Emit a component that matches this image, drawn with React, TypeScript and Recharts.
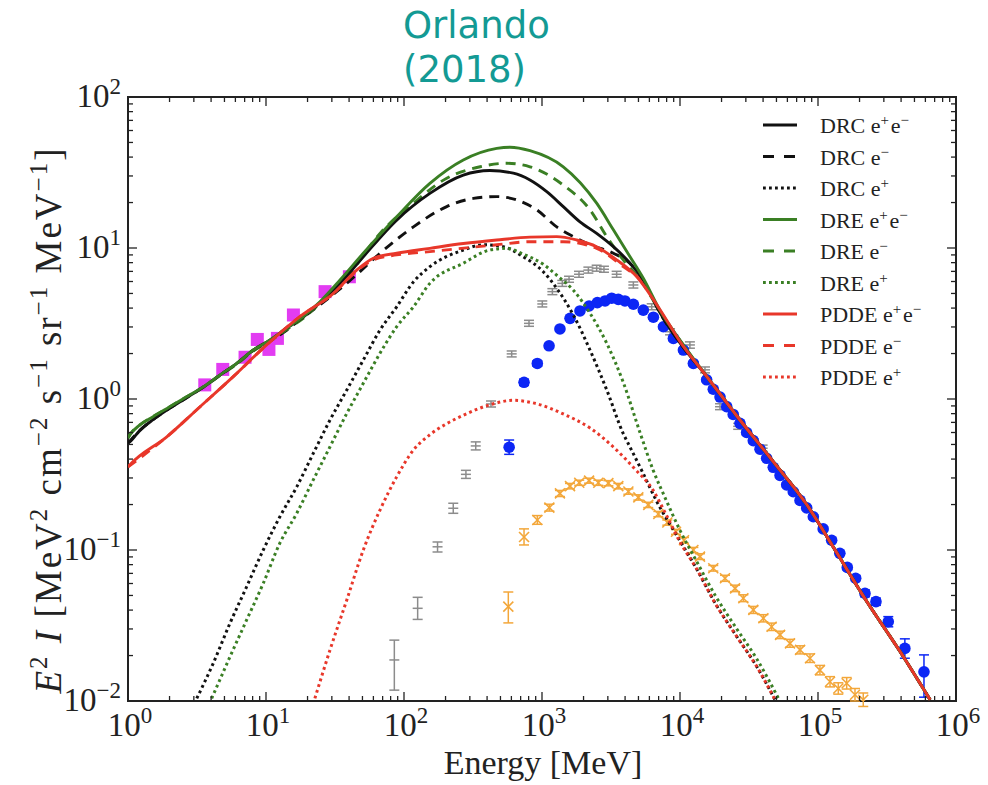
import React from 'react';
import { ComposedChart, Line, Scatter, XAxis, YAxis, ErrorBar, ReferenceArea } from 'recharts';

type Pair = [number, number];
type Pt = [number, number, number, number]; // energy, value, lower end, upper end

// ---- model curves: energy [MeV], E^2 I ----
const TAIL: Pair[] = [
  [1.56e4, 1.41], [2.08e4, 1.0], [2.72e4, 0.726], [4.74e4, 0.385], [8.28e4, 0.2],
  [1.33e5, 0.1], [2.22e5, 0.0467], [3.9e5, 0.0215], [6.49e5, 0.0102],
];
const DOT_TAIL: Pair[] = [[1.32e4, 0.075], [1.8e4, 0.0444], [2.58e4, 0.0267], [3.6e4, 0.0169], [4.88e4, 0.0102]];

const DRC_TOT: Pair[] = [
  [1, 0.51], [1.03, 0.52], [1.22, 0.62], [1.52, 0.73], [2.01, 0.87], [2.66, 1.02], [3.52, 1.2],
  [4.64, 1.44], [6.14, 1.72], [8.09, 2.11], [10.7, 2.46], [14.1, 2.94], [18.6, 3.48], [24.6, 4.35],
  [36, 6.1], [50.7, 8.75], [88.5, 15.3], [154, 23], [269, 30.4], [418, 32.6], [620, 31.3], [818, 28.2],
  [1082, 23.6], [1426, 18.8], [1884, 14.9], [2489, 12.5], [3289, 10.2], [4345, 7.93], [5420, 6.14],
  [7170, 3.72], [1e4, 2.35], ...TAIL,
];
const DRC_EM: Pair[] = [
  [1, 0.51], [1.22, 0.62], [1.52, 0.73], [2.01, 0.87], [2.66, 1.02], [3.52, 1.2], [4.64, 1.44],
  [6.14, 1.72], [8.09, 2.1], [10.7, 2.42], [14.1, 2.85], [17.6, 3.35], [24.6, 4.2], [32.5, 5.14],
  [43, 6.38], [67, 9.23], [117, 13.8], [204, 18.8], [318, 21.3], [470, 21.9], [656, 20.8], [915, 17.9],
  [1279, 13.8], [1687, 11.9], [2228, 10.5], [3289, 9.23], [4345, 7.9], [5420, 6.1], [7170, 3.7],
  [1e4, 2.35], ...TAIL,
];
const DRC_EP: Pair[] = [
  [3.15, 0.0104], [4.15, 0.0178], [5.48, 0.0327], [7.24, 0.0571], [9.55, 0.1], [12.6, 0.166],
  [16.7, 0.262], [22, 0.436], [29.1, 0.726], [38.5, 1.148], [50.7, 1.81], [67, 2.86], [88.5, 4.08],
  [117, 5.96], [154, 7.52], [269, 9.7], [375, 10.5], [524, 10.2], [732, 8.75], [1021, 6.97],
  [1279, 5.4], [1687, 3.6], [2228, 2.11], [2944, 1.15], [3880, 0.59], [4345, 0.48], [5420, 0.32],
  [6780, 0.21], [9460, 0.125], ...DOT_TAIL,
];

const DRE_TOT: Pair[] = [
  [1, 0.552], [1.03, 0.578], [1.22, 0.673], [1.52, 0.764], [2.01, 0.889], [2.66, 1.035], [3.52, 1.205],
  [4.64, 1.442], [6.14, 1.722], [8.09, 2.11], [10.7, 2.46], [14.1, 2.94], [18.6, 3.51], [24.6, 4.41],
  [34.4, 6.14], [50.7, 9.23], [88.5, 16.1], [154, 26.8], [269, 38.3], [470, 45.7], [586, 46.5],
  [818, 44.1], [1426, 34.5], [2489, 19.8], [3289, 13.2], [4345, 8.75], [5420, 6.3], [7170, 3.85],
  [1e4, 2.45], ...TAIL,
];
const DRE_EM: Pair[] = [
  [1, 0.552], [1.03, 0.578], [1.22, 0.673], [1.52, 0.764], [2.01, 0.889], [2.66, 1.035], [3.52, 1.2],
  [4.64, 1.43], [6.14, 1.7], [8.09, 2.08], [10.7, 2.42], [14.1, 2.88], [18.6, 3.42], [24.6, 4.3],
  [40.5, 6.79], [67, 12.5], [117, 19.8], [204, 29], [356, 34.5], [555, 36.4], [818, 34.5],
  [1426, 26.1], [2228, 17.9], [2944, 11.9], [3880, 8.34], [5129, 6.2], [7170, 3.8], [1e4, 2.45], ...TAIL,
];
const DRE_EP: Pair[] = [
  [4.04, 0.0104], [5.48, 0.0196], [7.24, 0.0344], [9.55, 0.0601], [12.6, 0.111], [16.7, 0.175],
  [22, 0.291], [29.1, 0.483], [38.5, 0.803], [50.7, 1.27], [67, 2.01], [88.5, 3.01], [117, 4.08],
  [154, 5.83], [269, 7.93], [418, 9.7], [555, 9.95], [732, 9.1], [1021, 7.8], [1279, 6.6],
  [1687, 5.25], [2228, 3.7], [2944, 2.34], [3880, 1.29], [5129, 0.6], [6380, 0.339], [7920, 0.215],
  [1e4, 0.135], [1.32e4, 0.084], [1.8e4, 0.05], [2.58e4, 0.03], [3.6e4, 0.019], [5.2e4, 0.0103],
];

const PDDE_TOT: Pair[] = [
  [1, 0.355], [1.03, 0.366], [1.91, 0.562], [3.33, 0.889], [5.79, 1.406], [10.1, 2.28], [17.6, 3.51],
  [30.8, 5.01], [45.4, 7.14], [60, 8.55], [88.5, 9.23], [154, 9.95], [269, 10.7], [470, 11.3],
  [818, 11.8], [1279, 11.9], [1784, 11.3], [2489, 10.2], [3477, 8.34], [4864, 6.46], [7170, 3.9],
  [1e4, 2.4], ...TAIL,
];
const PDDE_EM: Pair[] = [
  [1, 0.355], [1.91, 0.562], [3.33, 0.889], [5.79, 1.406], [10.1, 2.28], [17.6, 3.51], [30.8, 5.0],
  [45.4, 7.05], [60, 8.35], [88.5, 9.0], [154, 9.46], [470, 10.5], [818, 11.0], [1426, 11.0],
  [2489, 9.95], [3880, 7.52], [5420, 5.9], [7170, 3.8], [1e4, 2.4], ...TAIL,
];
const PDDE_EP: Pair[] = [
  [22.6, 0.0104], [29.1, 0.0218], [38.5, 0.0467], [50.7, 0.1], [67, 0.184], [88.5, 0.305],
  [117, 0.459], [154, 0.58], [200, 0.68], [269, 0.78], [418, 0.915], [620, 0.98], [915, 0.93],
  [1426, 0.796], [2228, 0.643], [3289, 0.481], [4640, 0.349], [6380, 0.249], [7920, 0.172], [1e4, 0.113],
  ...DOT_TAIL,
];

// ---- measurements ----
const MAGENTA_PTS: Pair[] = [
  [3.6, 1.24], [4.86, 1.57], [7.05, 1.89], [8.65, 2.48], [10.5, 2.13], [12.1, 2.52], [15.8, 3.6],
  [26.8, 5.14], [40.2, 6.45],
];
const GRAY_PTS: Pt[] = [
  [85.1, 0.0187, 0.0118, 0.0253], [125.6, 0.0411, 0.0347, 0.0486], [175, 0.105, 0.097, 0.113],
  [227.5, 0.189, 0.175, 0.204], [281, 0.317, 0.298, 0.337], [331, 0.489, 0.46, 0.52],
  [427, 0.927, 0.885, 0.97], [603, 1.99, 1.9, 2.08], [805, 3.17, 3.03, 3.32], [1005, 4.26, 4.07, 4.46],
  [1189, 5.14, 4.91, 5.38], [1403, 5.83, 5.57, 6.1], [1570, 6.21, 5.93, 6.5], [1854, 6.7, 6.4, 7.01],
  [2168, 7.14, 6.82, 7.47], [2489, 7.35, 7.02, 7.69], [2812, 7.23, 6.91, 7.57], [3475, 6.7, 6.4, 7.01],
  [4592, 5.69, 5.43, 5.96], [6237, 4.08, 3.9, 4.27], [8472, 2.79, 2.66, 2.92], [11800, 2.28, 2.17, 2.39],
  [15170, 1.56, 1.49, 1.63], [19500, 0.889, 0.85, 0.93], [26400, 0.659, 0.63, 0.69],
  [39700, 0.472, 0.45, 0.495],
];
const BLUE_PTS: Pt[] = [
  [578, 0.479, 0.43, 0.535], [741, 1.29, 1.23, 1.35], [925, 1.72, 1.65, 1.79], [1125, 2.25, 2.17, 2.33],
  [1349, 2.91, 2.82, 3.0], [1596, 3.42, 3.32, 3.52], [1884, 3.83, 3.72, 3.94], [2193, 4.13, 4.01, 4.25],
  [2518, 4.35, 4.22, 4.48], [2864, 4.46, 4.33, 4.59], [3199, 4.65, 4.51, 4.79], [3573, 4.57, 4.43, 4.71],
  [3990, 4.46, 4.33, 4.59], [4592, 4.24, 4.11, 4.37], [5420, 3.88, 3.76, 4.0], [6412, 3.48, 3.38, 3.58],
  [7586, 3.01, 2.92, 3.1], [8954, 2.52, 2.44, 2.6], [10590, 2.11, 2.05, 2.17], [12500, 1.72, 1.67, 1.77],
  [15600, 1.34, 1.3, 1.38], [17420, 1.16, 1.12, 1.2], [19500, 1.03, 1.0, 1.06], [21800, 0.89, 0.86, 0.92],
  [24300, 0.79, 0.77, 0.81], [27200, 0.69, 0.67, 0.71], [30400, 0.6, 0.58, 0.62], [33970, 0.53, 0.515, 0.545],
  [38000, 0.465, 0.45, 0.48], [42460, 0.405, 0.393, 0.417], [47400, 0.353, 0.342, 0.364],
  [53100, 0.312, 0.303, 0.321], [59300, 0.27, 0.262, 0.278], [66200, 0.243, 0.236, 0.25],
  [74100, 0.213, 0.207, 0.219], [82800, 0.19, 0.184, 0.196], [92500, 0.166, 0.161, 0.171],
  [109000, 0.138, 0.134, 0.142], [125600, 0.116, 0.112, 0.12], [144000, 0.095, 0.092, 0.098],
  [163000, 0.0767, 0.074, 0.0795], [187500, 0.065, 0.0625, 0.0675], [219000, 0.0516, 0.049, 0.0543],
  [263000, 0.0455, 0.043, 0.048], [323000, 0.0335, 0.031, 0.0362], [426000, 0.0223, 0.0192, 0.0258],
  [586000, 0.0156, 0.0106, 0.0202],
];
const ORANGE_PTS: Pt[] = [
  [570, 0.0422, 0.0329, 0.0527], [741, 0.122, 0.108, 0.138], [925, 0.158, 0.148, 0.169],
  [1130, 0.191, 0.181, 0.201], [1349, 0.237, 0.226, 0.248], [1596, 0.265, 0.254, 0.276],
  [1862, 0.279, 0.268, 0.29], [2193, 0.288, 0.277, 0.299], [2559, 0.279, 0.268, 0.29],
  [3027, 0.277, 0.266, 0.288], [3573, 0.265, 0.254, 0.276], [4227, 0.244, 0.234, 0.254],
  [4989, 0.223, 0.214, 0.232], [5888, 0.199, 0.191, 0.207], [6966, 0.173, 0.166, 0.18],
  [8091, 0.152, 0.146, 0.158], [9354, 0.132, 0.127, 0.137], [10690, 0.116, 0.111, 0.121],
  [12500, 0.1, 0.096, 0.104], [13960, 0.0904, 0.0865, 0.0945], [17420, 0.0757, 0.0725, 0.079],
  [21180, 0.065, 0.062, 0.068], [25060, 0.0557, 0.053, 0.0585], [28770, 0.0479, 0.0455, 0.0505],
  [33970, 0.0401, 0.038, 0.0423], [40180, 0.0353, 0.0334, 0.0373], [46130, 0.031, 0.0293, 0.0328],
  [53090, 0.0274, 0.0259, 0.029], [62660, 0.0241, 0.0227, 0.0256], [74130, 0.0218, 0.0205, 0.0232],
  [87500, 0.0192, 0.018, 0.0205], [103300, 0.016, 0.0149, 0.0172], [122200, 0.0134, 0.0124, 0.0145],
  [140300, 0.0121, 0.0111, 0.0132], [161400, 0.0131, 0.012, 0.0143], [185400, 0.011, 0.01, 0.0121],
  [212800, 0.0102, 0.0092, 0.0113],
];

// ---- ticks ----
const X_MAJOR = [1, 10, 100, 1e3, 1e4, 1e5, 1e6];
const Y_MAJOR = [0.01, 0.1, 1, 10, 100];
const MINOR_MULT = [2, 3, 4, 5, 6, 7, 8, 9];

// ---- look ----
const BLACK = '#111111';
const GREEN = '#3a7f24';
const RED = '#e8372a';
const BLUE = '#0c26f5';
const GRAY = '#8c8c8c';
const ORANGE = '#f3a73a';
const MAGENTA = '#e23cf2';
const TEAL = '#139a94';
const AXIS = '#222222';
const SERIF = '"Liberation Serif", "Times New Roman", serif';
const DASH = '10 7';
const DOT = '2.8 3.2';

const W = 988;
const H = 785;
const M = { top: 97, right: 32, bottom: 24, left: 48 };
const Y_W = 80;
const X_H = 60;
const PLOT_L = M.left + Y_W;
const PLOT_R = W - M.right;
const PLOT_T = M.top;
const PLOT_B = H - M.bottom - X_H;

const withMinor = (majors: number[]) => [
  ...majors,
  ...majors.slice(0, -1).flatMap((m) => MINOR_MULT.map((k) => k * m)),
];
const isMajor = (v: number) => Math.abs(Math.log10(v) - Math.round(Math.log10(v))) < 1e-6;
const expOf = (v: number) => {
  const e = Math.round(Math.log10(v));
  return e < 0 ? `\u2212${-e}` : `${e}`;
};
const pts = (arr: Pair[]) => arr.map(([x, y]) => ({ x, y }));
const errPts = (arr: Pt[]) => arr.map(([x, y, lo, hi]) => ({ x, y, err: [y - lo, hi - y] }));

const XTick = (props: any) => {
  const { x, payload } = props;
  const major = isMajor(payload.value);
  const len = major ? 9 : 5;
  return (
    <g>
      <line x1={x} x2={x} y1={PLOT_B} y2={PLOT_B - len} stroke={AXIS} strokeWidth={1.3} />
      <line x1={x} x2={x} y1={PLOT_T} y2={PLOT_T + len} stroke={AXIS} strokeWidth={1.3} />
      {major && (
        <text x={x + 2} y={PLOT_B + 35} textAnchor="middle" fontFamily={SERIF} fontSize={33} fill={AXIS}>
          10<tspan dy={-13} fontSize={23}>{expOf(payload.value)}</tspan>
        </text>
      )}
    </g>
  );
};

const YTick = (props: any) => {
  const { y, payload } = props;
  const major = isMajor(payload.value);
  const len = major ? 9 : 5;
  return (
    <g>
      <line x1={PLOT_L} x2={PLOT_L + len} y1={y} y2={y} stroke={AXIS} strokeWidth={1.3} />
      <line x1={PLOT_R} x2={PLOT_R - len} y1={y} y2={y} stroke={AXIS} strokeWidth={1.3} />
      {major && (
        <text x={PLOT_L - 7} y={y + 10} textAnchor="end" fontFamily={SERIF} fontSize={33} fill={AXIS}>
          10<tspan dy={-13} fontSize={23}>{expOf(payload.value)}</tspan>
        </text>
      )}
    </g>
  );
};

const Square = (p: any) => <rect x={p.cx - 6.5} y={p.cy - 6.5} width={13} height={13} fill={MAGENTA} />;
const Dash = (p: any) => <line x1={p.cx - 5} x2={p.cx + 5} y1={p.cy} y2={p.cy} stroke={GRAY} strokeWidth={1.5} />;
const Dot = (p: any) => <circle cx={p.cx} cy={p.cy} r={5.8} fill={BLUE} />;
const Cross = (p: any) => (
  <g stroke={ORANGE} strokeWidth={1.6}>
    <line x1={p.cx - 5} x2={p.cx + 5} y1={p.cy - 5} y2={p.cy + 5} />
    <line x1={p.cx - 5} x2={p.cx + 5} y1={p.cy + 5} y2={p.cy - 5} />
  </g>
);

const SERIES = [
  { name: 'DRC e+', data: DRC_EP, color: BLACK, dash: DOT },
  { name: 'DRE e+', data: DRE_EP, color: GREEN, dash: DOT },
  { name: 'PDDE e+', data: PDDE_EP, color: RED, dash: DOT },
  { name: 'DRC e-', data: DRC_EM, color: BLACK, dash: DASH },
  { name: 'DRE e-', data: DRE_EM, color: GREEN, dash: DASH },
  { name: 'PDDE e-', data: PDDE_EM, color: RED, dash: DASH },
  { name: 'DRC e+e-', data: DRC_TOT, color: BLACK, dash: undefined },
  { name: 'DRE e+e-', data: DRE_TOT, color: GREEN, dash: undefined },
  { name: 'PDDE e+e-', data: PDDE_TOT, color: RED, dash: undefined },
];

const LEGEND = [
  { model: 'DRC', kind: 'pm', color: BLACK, dash: undefined },
  { model: 'DRC', kind: 'm', color: BLACK, dash: '11 10' },
  { model: 'DRC', kind: 'p', color: BLACK, dash: DOT },
  { model: 'DRE', kind: 'pm', color: GREEN, dash: undefined },
  { model: 'DRE', kind: 'm', color: GREEN, dash: '11 10' },
  { model: 'DRE', kind: 'p', color: GREEN, dash: DOT },
  { model: 'PDDE', kind: 'pm', color: RED, dash: undefined },
  { model: 'PDDE', kind: 'm', color: RED, dash: '11 10' },
  { model: 'PDDE', kind: 'p', color: RED, dash: DOT },
];

const Sup = ({ s }: { s: string }) => (
  <>
    <tspan dy={-8} fontSize={15}>{s}</tspan>
    <tspan dy={8}>{'\u200a'}</tspan>
  </>
);

// points sit under the model curves, as in the original figure
const POINT_Z = 350;

const App = () => (
  <div style={{ position: 'absolute', left: 0, top: 0, width: W, height: H, background: '#fff' }}>
    <ComposedChart width={W} height={H} margin={M}>
      <XAxis
        dataKey="x"
        type="number"
        scale="log"
        domain={[1, 1e6]}
        allowDataOverflow
        ticks={withMinor(X_MAJOR)}
        interval={0}
        height={X_H}
        axisLine={false}
        tickLine={false}
        tick={<XTick />}
      />
      <YAxis
        dataKey="y"
        type="number"
        scale="log"
        domain={[0.01, 100]}
        allowDataOverflow
        ticks={withMinor(Y_MAJOR)}
        interval={0}
        width={Y_W}
        axisLine={false}
        tickLine={false}
        tick={<YTick />}
      />
      <ReferenceArea x1={1} x2={1e6} y1={0.01} y2={100} fill="none" fillOpacity={0} stroke={AXIS} strokeWidth={2} />
      <Scatter data={pts(MAGENTA_PTS)} dataKey="y" shape={<Square />} isAnimationActive={false} zIndex={POINT_Z} />
      <Scatter data={errPts(GRAY_PTS)} dataKey="y" shape={<Dash />} isAnimationActive={false} zIndex={POINT_Z}>
        <ErrorBar dataKey="err" direction="y" width={5} stroke={GRAY} strokeWidth={1.5} zIndex={POINT_Z} />
      </Scatter>
      <Scatter data={errPts(ORANGE_PTS)} dataKey="y" shape={<Cross />} isAnimationActive={false} zIndex={POINT_Z}>
        <ErrorBar dataKey="err" direction="y" width={5} stroke={ORANGE} strokeWidth={1.5} zIndex={POINT_Z} />
      </Scatter>
      <Scatter data={errPts(BLUE_PTS)} dataKey="y" shape={<Dot />} isAnimationActive={false} zIndex={POINT_Z}>
        <ErrorBar dataKey="err" direction="y" width={5} stroke={BLUE} strokeWidth={1.5} zIndex={POINT_Z} />
      </Scatter>
      {SERIES.map((s) => (
        <Line
          key={s.name}
          data={pts(s.data)}
          dataKey="y"
          type="monotone"
          stroke={s.color}
          strokeWidth={s.dash === DOT ? 3 : 2.9}
          strokeDasharray={s.dash}
          dot={false}
          activeDot={false}
          isAnimationActive={false}
        />
      ))}
    </ComposedChart>

    <svg width={W} height={H} style={{ position: 'absolute', left: 0, top: 0, pointerEvents: 'none' }}>
      <text x={403} y={38} fontFamily='"DejaVu Sans", sans-serif' fontSize={37} fill={TEAL}>Orlando</text>
      <text x={403} y={82} fontFamily='"DejaVu Sans", sans-serif' fontSize={37} fill={TEAL}>(2018)</text>

      <text x={543} y={774} textAnchor="middle" fontFamily={SERIF} fontSize={34} fill={AXIS}>Energy [MeV]</text>

      <text
        transform="translate(61,421) rotate(-90)"
        textAnchor="middle"
        fontFamily={SERIF}
        fontSize={37}
        fill={AXIS}
        textLength={545}
        lengthAdjust="spacing"
      >
        <tspan fontStyle="italic">E</tspan>
        <tspan dy={-14} fontSize={25}>2</tspan>
        <tspan dy={14}>{' '}</tspan>
        <tspan fontStyle="italic">I</tspan>
        <tspan>{' [MeV'}</tspan>
        <tspan dy={-14} fontSize={25}>2</tspan>
        <tspan dy={14}>{' cm'}</tspan>
        <tspan dy={-14} fontSize={25}>{'\u22122'}</tspan>
        <tspan dy={14}>{' s'}</tspan>
        <tspan dy={-14} fontSize={25}>{'\u22121'}</tspan>
        <tspan dy={14}>{' sr'}</tspan>
        <tspan dy={-14} fontSize={25}>{'\u22121'}</tspan>
        <tspan dy={14}>{' MeV'}</tspan>
        <tspan dy={-14} fontSize={25}>{'\u22121'}</tspan>
        <tspan dy={14}>]</tspan>
      </text>

      {LEGEND.map((l, i) => {
        const y = 125 + i * 31.5;
        return (
          <g key={i}>
            <line x1={763} x2={797} y1={y} y2={y} stroke={l.color} strokeWidth={3} strokeDasharray={l.dash} />
            <text x={820} y={y + 8} fontFamily={SERIF} fontSize={22} fill={AXIS}>
              {l.model + ' e'}
              {l.kind === 'pm' && (
                <>
                  <Sup s="+" />
                  <tspan>e</tspan>
                  <Sup s={'\u2212'} />
                </>
              )}
              {l.kind === 'm' && <Sup s={'\u2212'} />}
              {l.kind === 'p' && <Sup s="+" />}
            </text>
          </g>
        );
      })}
    </svg>
  </div>
);

export default App;
